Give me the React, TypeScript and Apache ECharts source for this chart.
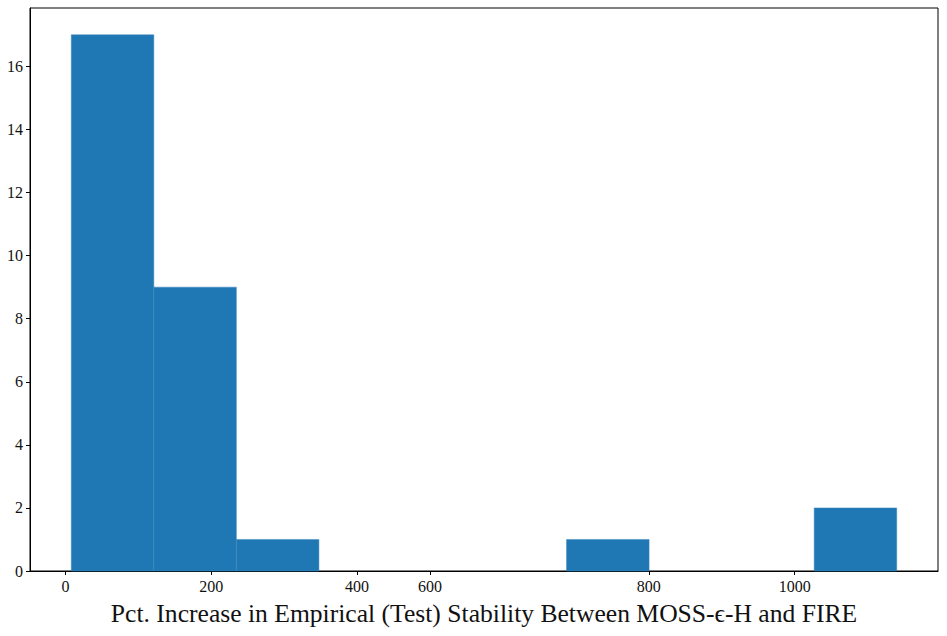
import React, { useEffect, useRef } from "react";
import * as echarts from "echarts";

const binStart = 8;
const binWidth = 113.2;
const binCounts = [17, 9, 1, 0, 0, 0, 1, 0, 0, 2];
const xTickValues = [0, 200, 400, 500, 800, 1000];
const xTickLabels = ["0", "200", "400", "600", "800", "1000"];
const yMax = 17.85;
const xLabel = "Pct. Increase in Empirical (Test) Stability Between MOSS-\u03f5-H and FIRE";

const FONT = "'Liberation Serif', 'DejaVu Serif', serif";

export default function App() {
  const ref = useRef<HTMLDivElement>(null);
  useEffect(() => {
    document.body.style.margin = "0";
    const chart = echarts.init(ref.current!, null, { renderer: "svg" });
    const data = binCounts.map((c, i) => [binStart + i * binWidth, binStart + (i + 1) * binWidth, c]);
    const span = binCounts.length * binWidth;
    const xMin = binStart - span * 0.05;
    const xMax = binStart + span * 1.05;
    chart.setOption({
      animation: false,
      backgroundColor: "#ffffff",
      grid: {
        left: 30,
        right: 9,
        top: 8,
        bottom: 65,
        show: true,
        borderColor: "#000",
        borderWidth: 1,
        backgroundColor: "transparent",
      },
      xAxis: {
        type: "value",
        min: xMin,
        max: xMax,
        splitLine: { show: false },
        axisLine: { show: true, onZero: false, lineStyle: { color: "#000", width: 1 } },
        axisTick: {
          show: true,
          inside: false,
          length: 4,
          lineStyle: { color: "#000" },
          customValues: xTickValues,
        },
        axisLabel: {
          show: true,
          margin: 7,
          color: "#111",
          fontFamily: FONT,
          fontSize: 16,
          customValues: xTickValues,
          formatter: (v: number) => {
            const i = xTickValues.indexOf(v);
            return i >= 0 ? xTickLabels[i] : "";
          },
        },
        name: xLabel,
        nameLocation: "middle",
        nameGap: 29,
        nameTextStyle: { fontFamily: FONT, fontSize: 25.6, color: "#111" },
      },
      yAxis: {
        type: "value",
        min: 0,
        max: yMax,
        interval: 2,
        splitLine: { show: false },
        axisLine: { show: true, onZero: false, lineStyle: { color: "#000", width: 1 } },
        axisTick: { show: true, inside: false, length: 4, lineStyle: { color: "#000" } },
        axisLabel: {
          margin: 7,
          color: "#111",
          fontFamily: FONT,
          fontSize: 16,
          showMaxLabel: false,
        },
      },
      series: [
        {
          type: "custom",
          data,
          encode: { x: [0, 1], y: 2 },
          renderItem: (params: any, api: any) => {
            const x0 = api.value(0);
            const x1 = api.value(1);
            const c = api.value(2);
            if (!c) return null;
            const p0 = api.coord([x0, c]);
            const p1 = api.coord([x1, 0]);
            return {
              type: "rect",
              shape: { x: p0[0], y: p0[1], width: p1[0] - p0[0], height: p1[1] - p0[1] },
              style: { fill: "#1f77b4", stroke: "#3a88be", lineWidth: 0.5 },
            };
          },
        },
      ],
    });
    return () => chart.dispose();
  }, []);
  return <div ref={ref} style={{ width: 947, height: 636 }} />;
}
